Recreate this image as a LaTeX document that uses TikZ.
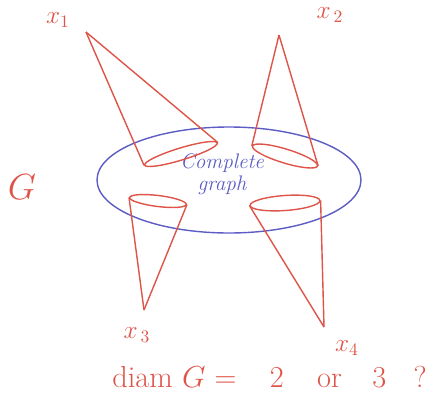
\documentclass[tikz,border=0pt]{standalone}
\usepackage{amsmath,amssymb}
\usepackage{xcolor}
\usepackage{tikz}
\usetikzlibrary{positioning,shapes.geometric}
\definecolor{penred}{RGB}{222, 84, 72}
\definecolor{penblue}{RGB}{92, 92, 196}

\begin{document}
\begin{tikzpicture}[
  graphblob/.style={ellipse, draw=penblue, line width=0.8pt, inner sep=0pt, minimum width=5.28cm, minimum height=2.12cm},
  conebase/.style={ellipse, draw=penred, line width=0.8pt, inner sep=0pt},
  cone/.style={draw=penred, line width=0.8pt, line join=round},
  lbl/.style={text=penred, font=\Large, inner sep=1pt},
  blue text/.style={text=penblue, font=\large\itshape, align=center, inner sep=1pt}
]
\useasboundingbox (0,0) rectangle (8.72,7.84);

% The graph G with its complete core
\node[graphblob] (core) at (4.58, 4.24) {};
\node[blue text] (kn) at (4.44, 4.36) {Complete\\[-0.05cm]graph};
\node[lbl, font=\huge] (G) at (0.44, 4.10) {$G$};

% Cone bases inside the core
\node[conebase, minimum width=1.52cm, minimum height=0.24cm, rotate=17] (base1) at (3.62, 4.76) {};
\node[conebase, minimum width=1.36cm, minimum height=0.28cm, rotate=-17] (base2) at (5.70, 4.72) {};
\node[conebase, minimum width=1.14cm, minimum height=0.22cm, rotate=-7] (base3) at (3.16, 3.82) {};
\node[conebase, minimum width=1.40cm, minimum height=0.30cm, rotate=4] (base4) at (5.70, 3.78) {};

% Tips of the cones and their labels
\coordinate (tip1) at (1.72, 7.20);
\coordinate (tip2) at (5.58, 7.14);
\coordinate (tip3) at (2.88, 1.64);
\coordinate (tip4) at (6.48, 1.30);
\node[lbl] (x1) at (1.16, 7.44) {$x_1$};
\node[lbl] (x2) at (6.60, 7.54) {$x_{\,2}$};
\node[lbl] (x3) at (2.74, 1.14) {$x_{\,3}$};
\node[lbl] (x4) at (6.94, 0.88) {$x_4$};

% Cone sides
\draw[cone] (tip1) -- (base1.west);
\draw[cone] (tip1) -- (base1.east);
\draw[cone] (tip2) -- (base2.west);
\draw[cone] (tip2) -- (base2.east);
\draw[cone] (tip3) -- (base3.west);
\draw[cone] (tip3) -- (base3.east);
\draw[cone] (tip4) -- (base4.west);
\draw[cone] (tip4) -- (base4.east);

% Question
\node[lbl, font=\LARGE, anchor=base west, inner sep=0pt] (diam) at (2.24, 0.10) {diam $G$ =\hspace{1.1em}2\hspace{1.1em}or\hspace{1.0em}3\hspace{0.9em}?};

\end{tikzpicture}
\end{document}
